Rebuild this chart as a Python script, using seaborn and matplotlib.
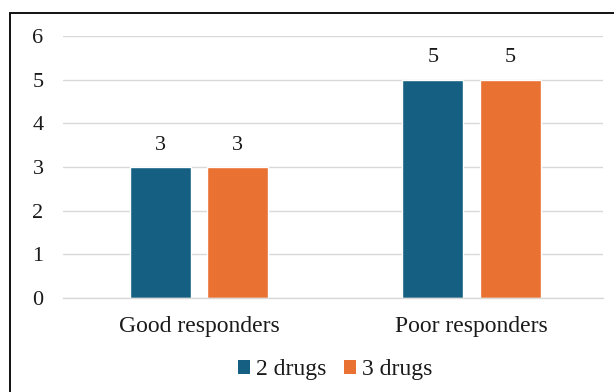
import matplotlib
matplotlib.use("Agg")
import matplotlib.pyplot as plt
from matplotlib.lines import Line2D
from matplotlib.patches import Patch
import seaborn as sns
import pandas as pd

# Chart data
categories = ["Good responders", "Poor responders"]
series_names = ["2 drugs", "3 drugs"]
values_2_drugs = [3, 5]
values_3_drugs = [3, 5]
y_ticks = [0, 1, 2, 3, 4, 5, 6]

colors = ["#156082", "#E97132"]
text_color = "#1a1a1a"

df = pd.DataFrame({
    "group": categories * 2,
    "series": [series_names[0]] * len(categories) + [series_names[1]] * len(categories),
    "value": values_2_drugs + values_3_drugs,
})

sns.set_theme(style="white")
plt.rcParams["font.family"] = ["Liberation Serif", "DejaVu Serif"]

fig = plt.figure(figsize=(6.14, 3.92), dpi=100)
ax = fig.add_axes([63 / 614, 1 - 298 / 392, 540 / 614, 262 / 392])

sns.barplot(data=df, x="group", y="value", hue="series", palette=colors,
            width=0.567, gap=0.21, ax=ax, legend=False, saturation=1)

ax.set_xlim(-0.499, 1.483)
ax.set_ylim(0, 6)
ax.set_yticks(y_ticks)
ax.set_yticklabels([str(t) for t in y_ticks])
ax.yaxis.grid(True, color="#d9d9d9", linewidth=1.0)
ax.set_axisbelow(True)
for side in ["top", "right", "left"]:
    ax.spines[side].set_visible(False)
ax.spines["bottom"].set_color("#d9d9d9")
ax.spines["bottom"].set_linewidth(1.0)
ax.tick_params(axis="y", length=0, labelsize=16, colors=text_color, pad=14)
ax.tick_params(axis="x", length=0, labelsize=17, colors=text_color, pad=13)
ax.set_xlabel("")
ax.set_ylabel("")

for cont in ax.containers:
    ax.bar_label(cont, fmt="%d", padding=9, fontsize=16, color=text_color)

handles = [Patch(facecolor=c, edgecolor="none") for c in colors]
fig.legend(handles, series_names, loc="center", bbox_to_anchor=(335 / 614, 1 - 370 / 392),
           ncol=2, frameon=False, fontsize=17, handlelength=0.5, handleheight=0.5,
           handletextpad=0.25, columnspacing=0.75, labelcolor=text_color)

# Outer frame (left and top edges)
fig.add_artist(Line2D([9.5 / 614, 9.5 / 614], [0, 1 - 12.5 / 392], transform=fig.transFigure,
                      color="#111111", linewidth=1.4))
fig.add_artist(Line2D([9.5 / 614, 1], [1 - 12.5 / 392, 1 - 12.5 / 392], transform=fig.transFigure,
                      color="#111111", linewidth=1.4))

fig.savefig("out.png", dpi=100)
